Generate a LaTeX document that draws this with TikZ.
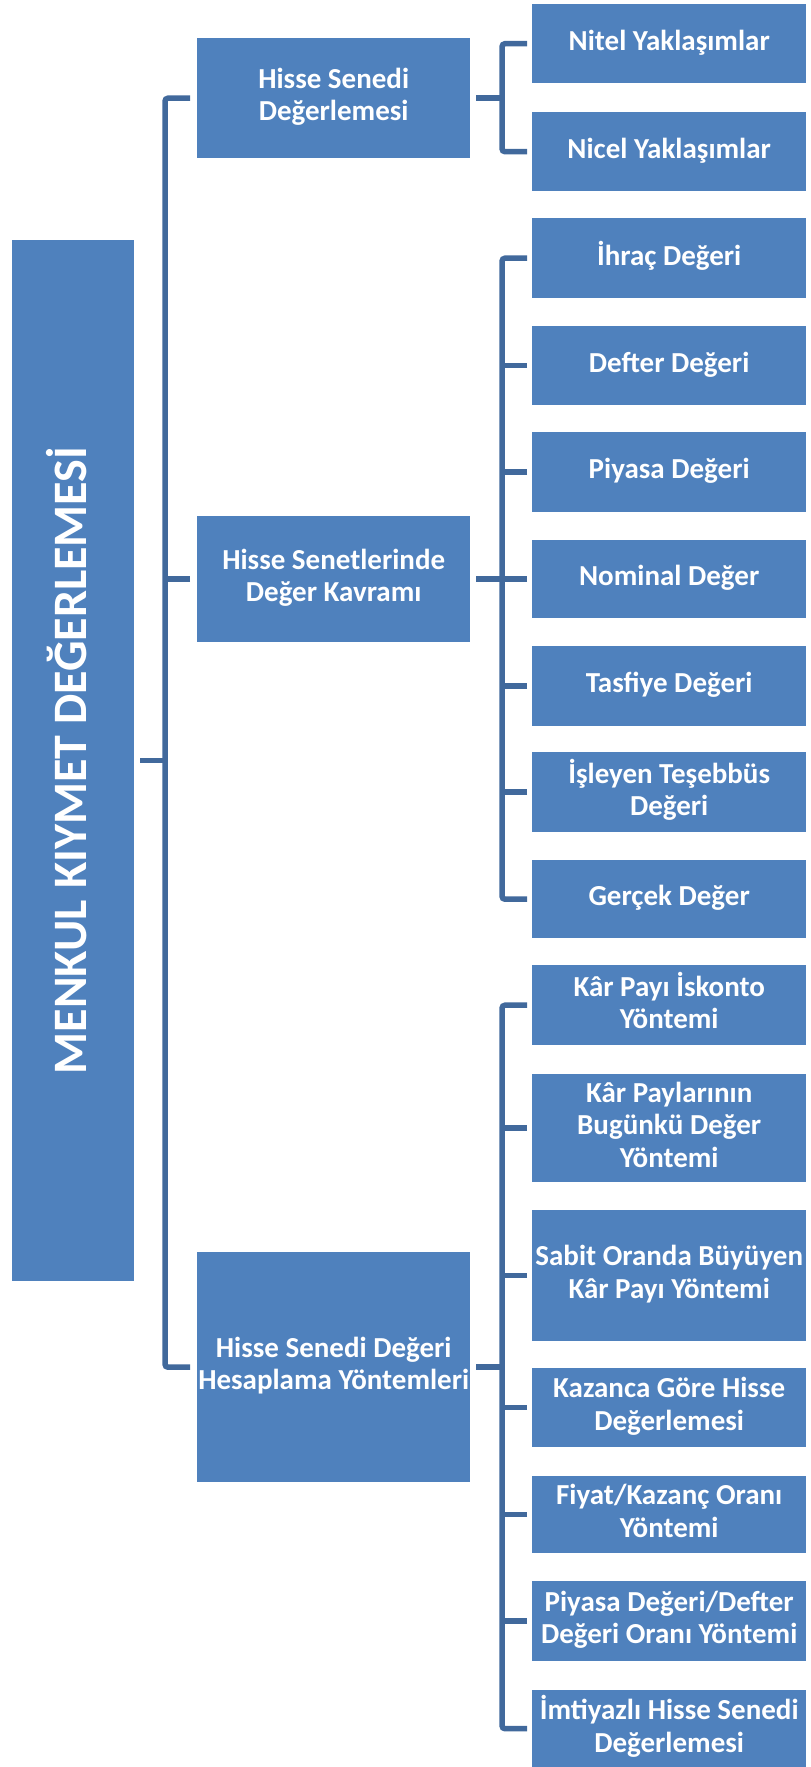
\documentclass[tikz,border=0pt]{standalone}
\usepackage{fontspec}
\setmainfont{Carlito}
\definecolor{boxblue}{HTML}{4F81BD}
\definecolor{lineblue}{HTML}{41699C}
\newcommand\boxtext[1]{\makebox[0pt]{\begin{tabular}{@{}c@{}}#1\end{tabular}}}
\begin{document}
\begin{tikzpicture}[x=1pt,y=-1pt,
  bx/.style={fill=boxblue, draw=none, inner sep=0pt, anchor=north west, text=white,
    font=\fontsize{29}{32.5}\selectfont\bfseries},
  conn/.style={draw=lineblue, line width=5.5pt, rounded corners=3pt}]
\useasboundingbox (0,0) rectangle (811,1767);
% main box
\node[bx, minimum width=122pt, minimum height=1041pt] (main) at (12,240) {};
\node[rotate=90, anchor=base, text=white, font=\fontsize{48}{58}\selectfont\bfseries] (title) at (86,760.5) {MENKUL KIYMET DEĞERLEMESİ};
% parents
\node[bx, minimum width=273pt, minimum height=120pt] (h1) at (197,38) {\boxtext{Hisse Senedi\\Değerlemesi}};
\node[bx, minimum width=273pt, minimum height=126pt] (h2) at (197,516) {\boxtext{Hisse Senetlerinde\\Değer Kavramı}};
\node[bx, minimum width=273pt, minimum height=230pt] (h3) at (197,1252) {\boxtext{Hisse Senedi Değeri\\Hesaplama Yöntemleri}};
% group a
\node[bx, minimum width=274pt, minimum height=79pt] (a1) at (532,4) {\boxtext{Nitel Yaklaşımlar}};
\node[bx, minimum width=274pt, minimum height=79pt] (a2) at (532,112) {\boxtext{Nicel Yaklaşımlar}};
% group b
\node[bx, minimum width=274pt, minimum height=80pt] (b1) at (532,218) {\boxtext{İhraç Değeri}};
\node[bx, minimum width=274pt, minimum height=79pt] (b2) at (532,326) {\boxtext{Defter Değeri}};
\node[bx, minimum width=274pt, minimum height=80pt] (b3) at (532,432) {\boxtext{Piyasa Değeri}};
\node[bx, minimum width=274pt, minimum height=78pt] (b4) at (532,540) {\boxtext{Nominal Değer}};
\node[bx, minimum width=274pt, minimum height=80pt] (b5) at (532,646) {\boxtext{Tasfiye Değeri}};
\node[bx, minimum width=274pt, minimum height=80pt] (b6) at (532,752) {\boxtext{İşleyen Teşebbüs\\Değeri}};
\node[bx, minimum width=274pt, minimum height=78pt] (b7) at (532,860) {\boxtext{Gerçek Değer}};
% group c
\node[bx, minimum width=274pt, minimum height=80pt] (c1) at (532,965) {\boxtext{Kâr Payı İskonto\\Yöntemi}};
\node[bx, minimum width=274pt, minimum height=108pt] (c2) at (532,1074) {\boxtext{Kâr Paylarının\\Bugünkü Değer\\Yöntemi}};
\node[bx, minimum width=274pt, minimum height=131pt] (c3) at (532,1210) {\boxtext{Sabit Oranda Büyüyen\\Kâr Payı Yöntemi}};
\node[bx, minimum width=274pt, minimum height=79pt] (c4) at (532,1368) {\boxtext{Kazanca Göre Hisse\\Değerlemesi}};
\node[bx, minimum width=274pt, minimum height=77pt] (c5) at (532,1476) {\boxtext{Fiyat/Kazanç Oranı\\Yöntemi}};
\node[bx, minimum width=274pt, minimum height=80pt] (c6) at (532,1581) {\boxtext{Piyasa Değeri/Defter\\Değeri Oranı Yöntemi}};
\node[bx, minimum width=274pt, minimum height=77pt] (c7) at (532,1690) {\boxtext{İmtiyazlı Hisse Senedi\\Değerlemesi}};
% trunk
\draw[conn] ([xshift=-7pt]h1.west) -- ++(-25,0) |- ([xshift=-7pt]h3.west);
\draw[conn] ([xshift=-7pt]h2.west) -- ++(-25,0);
\draw[conn] ([xshift=6pt]main.east) -- ++(25,0);
% group a bracket
\draw[conn] ([xshift=6pt]h1.east) -- ++(26,0);
\draw[conn] ([xshift=-5pt]a1.west) -- ++(-25,0) |- ([xshift=-5pt]a2.west);
% group b bracket
\draw[conn] ([xshift=6pt]h2.east) -- ++(26,0);
\draw[conn] ([xshift=-5pt]b1.west) -- ++(-25,0) |- ([xshift=-5pt]b7.west);
\foreach \n in {b2,b3,b4,b5,b6} \draw[conn] ([xshift=-5pt]\n.west) -- ++(-25,0);
% group c bracket
\draw[conn] ([xshift=6pt]h3.east) -- ++(26,0);
\draw[conn] ([xshift=-5pt]c1.west) -- ++(-25,0) |- ([xshift=-5pt]c7.west);
\foreach \n in {c2,c3,c4,c5,c6} \draw[conn] ([xshift=-5pt]\n.west) -- ++(-25,0);
\end{tikzpicture}
\end{document}
